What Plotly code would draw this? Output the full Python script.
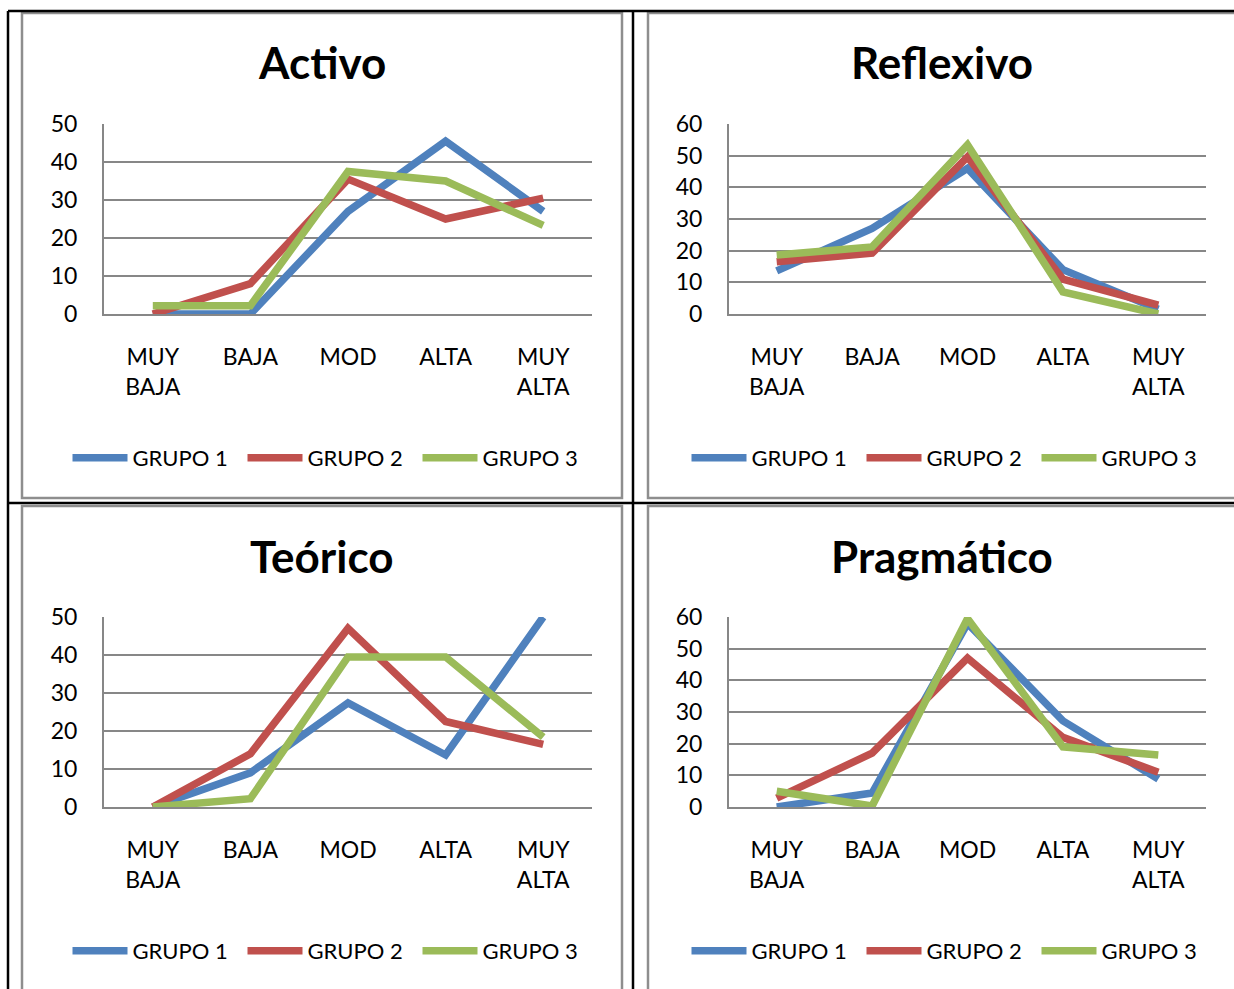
import plotly.graph_objects as go

W, H = 1234, 989

categories = ["MUY<br>BAJA", "BAJA", "MOD", "ALTA", "MUY<br>ALTA"]
series_names = ["GRUPO 1", "GRUPO 2", "GRUPO 3"]
colors = ["#4F81BD", "#C0504D", "#9BBB59"]

activo_g1 = [0, 0, 27, 45.5, 27]
activo_g2 = [0, 8, 35.5, 25, 30.5]
activo_g3 = [2.2, 2.2, 37.5, 35, 23.3]

reflexivo_g1 = [13.6, 27, 46, 14, 1.5]
reflexivo_g2 = [16.5, 19.2, 49.6, 11, 2.8]
reflexivo_g3 = [18.6, 21.2, 53.4, 7, 0]

teorico_g1 = [0, 9, 27.4, 13.7, 50]
teorico_g2 = [0, 14, 47, 22.5, 16.5]
teorico_g3 = [0, 2.2, 39.5, 39.5, 18.4]

pragmatico_g1 = [0, 4.4, 58, 27.2, 8.8]
pragmatico_g2 = [2.8, 17, 47, 22, 11]
pragmatico_g3 = [5, 0.3, 59.5, 19, 16.4]

titles = ["Activo", "Reflexivo", "Teórico", "Pragmático"]
y_max = [50, 60, 50, 60]

panels = [
    [activo_g1, activo_g2, activo_g3],
    [reflexivo_g1, reflexivo_g2, reflexivo_g3],
    [teorico_g1, teorico_g2, teorico_g3],
    [pragmatico_g1, pragmatico_g2, pragmatico_g3],
]


def px(x):
    return x / W


def py(y):
    return 1 - y / H


# plot-area pixel geometry: (left, right, top, bottom)
plot_px = [(104, 592, 124, 314), (729, 1206, 124, 314),
           (104, 592, 617, 807), (729, 1206, 617, 807)]
box_px = [(22, 622, 13, 498), (648, 1240, 13, 498),
          (22, 622, 506, 1000), (648, 1240, 506, 1000)]
title_pos = [(322, 62), (942, 62), (322, 556), (942, 556)]
legend_pos = [(330, 458), (949, 458), (330, 951), (949, 951)]

FONT = "Lato"
GRID = "#878787"

fig = go.Figure()
layout = dict(
    width=W, height=H,
    margin=dict(l=0, r=0, t=0, b=0, pad=0, autoexpand=False),
    paper_bgcolor="white", plot_bgcolor="white",
    font=dict(family=FONT, size=22, color="black"),
    shapes=[], annotations=[],
)

for i in range(4):
    n = "" if i == 0 else str(i + 1)
    xa, ya = "x" + n, "y" + n
    leg = "legend" + n
    for s in range(3):
        fig.add_trace(go.Scatter(
            x=categories, y=panels[i][s], mode="lines",
            name=series_names[s], xaxis=xa, yaxis=ya, legend=leg,
            line=dict(color=colors[s], width=7.5),
            hoverinfo="skip",
        ))
    l, r, t, b = plot_px[i]
    layout["xaxis" + n] = dict(
        domain=[px(l), px(r)], anchor=ya, type="category",
        range=[-0.5, 4.5], showgrid=False, showline=True,
        linecolor=GRID, linewidth=2, ticks="",
        ticklabelstandoff=21, tickfont=dict(size=23, family=FONT),
        fixedrange=True, automargin=False,
    )
    layout["yaxis" + n] = dict(
        domain=[py(b), py(t)], anchor=xa, range=[0, y_max[i]], dtick=10,
        showgrid=True, gridcolor=GRID, gridwidth=2, showline=True,
        linecolor=GRID, linewidth=2, zeroline=False, ticks="",
        ticklabelstandoff=20, tickfont=dict(size=23, family=FONT),
        fixedrange=True, automargin=False,
    )
    lx, ly = legend_pos[i]
    layout[leg] = dict(
        orientation="h", x=px(lx), y=py(ly), xanchor="center",
        yanchor="middle", font=dict(size=22, family=FONT, color="black"),
        bgcolor="rgba(0,0,0,0)", itemwidth=55, entrywidth=105,
        tracegroupgap=0,
    )
    tx, ty = title_pos[i]
    layout["annotations"].append(dict(
        text="<b>" + titles[i] + "</b>", x=px(tx), y=py(ty),
        xref="paper", yref="paper", showarrow=False,
        xanchor="center", yanchor="middle",
        font=dict(size=44, family=FONT, color="black"),
    ))
    bl, br, bt, bb = box_px[i]
    layout["shapes"].append(dict(
        type="rect", xref="paper", yref="paper",
        x0=px(bl), x1=px(br), y0=py(bb), y1=py(bt),
        line=dict(color="#8E8E8E", width=2.5), layer="below",
    ))

# black table grid lines
table_lines = [
    (8, 11, 1240, 11), (8, 11, 8, 1000), (633, 11, 633, 1000),
    (8, 503, 1240, 503),
]
for x0, y0, x1, y1 in table_lines:
    layout["shapes"].append(dict(
        type="line", xref="paper", yref="paper",
        x0=px(x0), y0=py(y0), x1=px(x1), y1=py(y1),
        line=dict(color="black", width=2.5),
    ))

fig.update_layout(**layout)
fig.write_html(
    "out.html",
    config={"displayModeBar": False},
    post_script="document.body.style.margin='0';",
)
